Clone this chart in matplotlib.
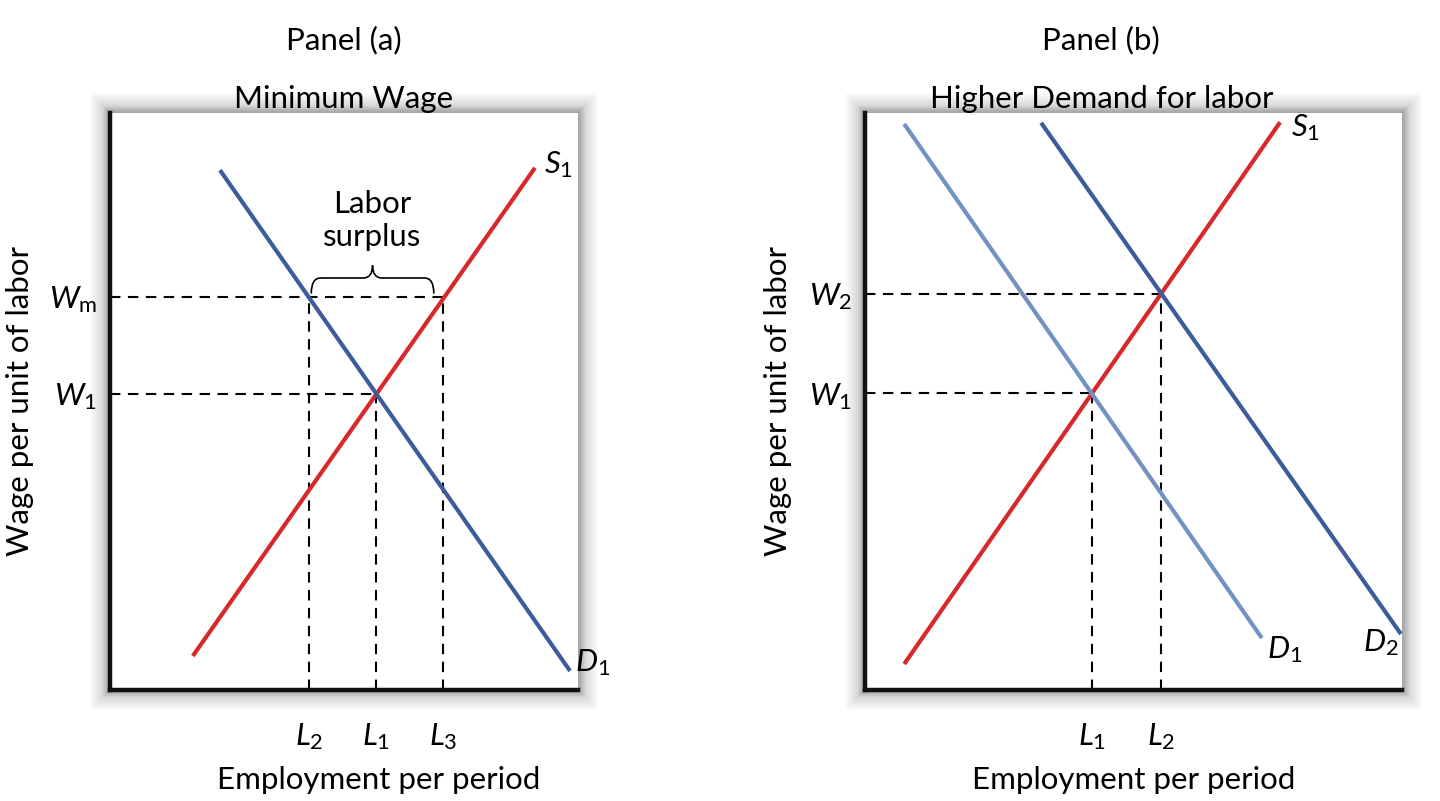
import matplotlib
matplotlib.use("Agg")
import matplotlib.pyplot as plt
from matplotlib.patches import Rectangle, PathPatch
from matplotlib.path import Path

plt.rcParams.update({
    "font.family": ["Lato", "DejaVu Sans"],
    "mathtext.fontset": "custom",
    "mathtext.it": "Lato:italic",
    "mathtext.rm": "Lato",
})

RED = "#d9282a"
BLUE = "#3c5c9c"
LIGHT_BLUE = "#7392c4"

# ---- panel (a): minimum wage (axis units 0..10)
a_demand_x = [2.35, 9.83]
a_demand_y = [9.01, 0.33]
a_supply_x = [1.77, 9.08]
a_supply_y = [0.59, 9.05]
a_wm, a_w1 = 6.81, 5.13
a_l2, a_l1, a_l3 = 4.25, 5.69, 7.12

# ---- panel (b): higher demand for labor
b_d1_x = [0.73, 7.39]
b_d1_y = [9.81, 0.90]
b_d2_x = [3.28, 9.98]
b_d2_y = [9.83, 0.97]
b_s1_x = [0.73, 7.73]
b_s1_y = [0.45, 9.84]
b_w2, b_w1 = 6.86, 5.14
b_l1, b_l2 = 4.22, 5.52

W, H = 1440, 801
fig = plt.figure(figsize=(W / 100, H / 100), dpi=100)
fig.patch.set_facecolor("white")


def panel(px_left, px_right, px_top, px_bottom):
    rect = [px_left / W, 1 - px_bottom / H, (px_right - px_left) / W,
            (px_bottom - px_top) / H]
    # soft drop shadow around the box, darker close to the edge
    for d in range(1, 21):
        fig.patches.append(Rectangle(
            ((px_left - d) / W, 1 - (px_bottom + d) / H),
            (px_right - px_left + 2 * d) / W, (px_bottom - px_top + 2 * d) / H,
            transform=fig.transFigure, facecolor="black",
            alpha=0.03 if d < 8 else 0.012,
            edgecolor="none", zorder=-5))
    ax = fig.add_axes(rect)
    ax.set_xlim(0, 10)
    ax.set_ylim(0, 10)
    ax.set_facecolor("white")
    for s in ("top", "right"):
        ax.spines[s].set_visible(False)
    for s in ("left", "bottom"):
        ax.spines[s].set_linewidth(3.2)
        ax.spines[s].set_color("#111111")
    ax.set_xticks([])
    ax.set_yticks([])
    return ax


DASH = dict(color="black", lw=1.5, dashes=(5, 3.6))
CURVE_LW = 3.0
FS = 22.5

# ------------------------------------------------------------- panel (a)
ax = panel(110, 578, 113, 690)
ax.plot([0, a_l3], [a_wm, a_wm], **DASH)
ax.plot([0, a_l1], [a_w1, a_w1], **DASH)
ax.plot([a_l2, a_l2], [0, a_wm], **DASH)
ax.plot([a_l1, a_l1], [0, a_w1], **DASH)
ax.plot([a_l3, a_l3], [0, a_wm], **DASH)
ax.plot(a_supply_x, a_supply_y, color=RED, lw=CURVE_LW, solid_capstyle="butt")
ax.plot(a_demand_x, a_demand_y, color=BLUE, lw=CURVE_LW, solid_capstyle="butt")

# curly brace over the surplus
xl, xr = a_l2 + 0.05, a_l3 - 0.2
xc = (xl + xr) / 2
ye, yf, yt = a_wm + 0.06, a_wm + 0.33, a_wm + 0.55
r = 0.2
verts = [(xl, ye), (xl, yf), (xl + r, yf), (xc - r, yf), (xc, yf), (xc, yt),
         (xc, yf), (xc + r, yf), (xr - r, yf), (xr, yf), (xr, ye)]
codes = [Path.MOVETO, Path.CURVE3, Path.CURVE3, Path.LINETO, Path.CURVE3,
         Path.CURVE3, Path.CURVE3, Path.CURVE3, Path.LINETO, Path.CURVE3,
         Path.CURVE3]
ax.add_patch(PathPatch(Path(verts, codes), facecolor="none", edgecolor="black",
                       lw=1.2))
ax.text(xc, yt + 0.25, "Labor\nsurplus", ha="center", va="bottom",
        fontsize=FS, linespacing=1.2)

ax.text(a_supply_x[1] + 0.2, a_supply_y[1] + 0.05, r"$S_1$", fontsize=FS,
        ha="left", va="center")
ax.text(a_demand_x[1] + 0.1, a_demand_y[1] + 0.15, r"$D_1$", fontsize=FS,
        ha="left", va="center")
ax.text(-0.28, a_wm - 0.05, r"$W_\mathrm{m}$", fontsize=FS, ha="right",
        va="center")
ax.text(-0.28, a_w1 - 0.05, r"$W_1$", fontsize=FS, ha="right", va="center")
for x, lab in ((a_l2, r"$L_2$"), (a_l1, r"$L_1$"), (a_l3, r"$L_3$")):
    ax.text(x, -0.8, lab, fontsize=FS, ha="center", va="center")
ax.text(-1.92, 5.0, "Wage per unit of labor", rotation=90, fontsize=FS,
        ha="center", va="center")
ax.text(5.75, -1.56, "Employment per period", fontsize=FS, ha="center",
        va="center")
ax.text(5.0, 11.27, "Panel (a)", fontsize=FS, ha="center", va="center")
ax.text(5.0, 10.25, "Minimum Wage", fontsize=FS, ha="center", va="center")

# ------------------------------------------------------------- panel (b)
ax = panel(865, 1402, 113, 690)
ax.plot([0, b_l2], [b_w2, b_w2], **DASH)
ax.plot([0, b_l1], [b_w1, b_w1], **DASH)
ax.plot([b_l1, b_l1], [0, b_w1], **DASH)
ax.plot([b_l2, b_l2], [0, b_w2], **DASH)
ax.plot(b_s1_x, b_s1_y, color=RED, lw=CURVE_LW, solid_capstyle="butt")
ax.plot(b_d1_x, b_d1_y, color=LIGHT_BLUE, lw=CURVE_LW, solid_capstyle="butt")
ax.plot(b_d2_x, b_d2_y, color=BLUE, lw=CURVE_LW, solid_capstyle="butt")

ax.text(b_s1_x[1] + 0.2, b_s1_y[1] - 0.1, r"$S_1$", fontsize=FS, ha="left",
        va="center")
ax.text(b_d1_x[1] + 0.1, b_d1_y[1] - 0.2, r"$D_1$", fontsize=FS, ha="left",
        va="center")
ax.text(b_d2_x[1] - 0.05, b_d2_y[1] - 0.15, r"$D_2$", fontsize=FS,
        ha="right", va="center")
ax.text(-0.24, b_w2 - 0.05, r"$W_2$", fontsize=FS, ha="right", va="center")
ax.text(-0.24, b_w1 - 0.05, r"$W_1$", fontsize=FS, ha="right", va="center")
for x, lab in ((b_l1, r"$L_1$"), (b_l2, r"$L_2$")):
    ax.text(x, -0.8, lab, fontsize=FS, ha="center", va="center")
ax.text(-1.62, 5.0, "Wage per unit of labor", rotation=90, fontsize=FS,
        ha="center", va="center")
ax.text(5.0, -1.56, "Employment per period", fontsize=FS, ha="center",
        va="center")
ax.text(4.4, 11.27, "Panel (b)", fontsize=FS, ha="center", va="center")
ax.text(4.4, 10.25, "Higher Demand for labor", fontsize=FS, ha="center",
        va="center")

fig.savefig("out.png", dpi=100, facecolor="white")
